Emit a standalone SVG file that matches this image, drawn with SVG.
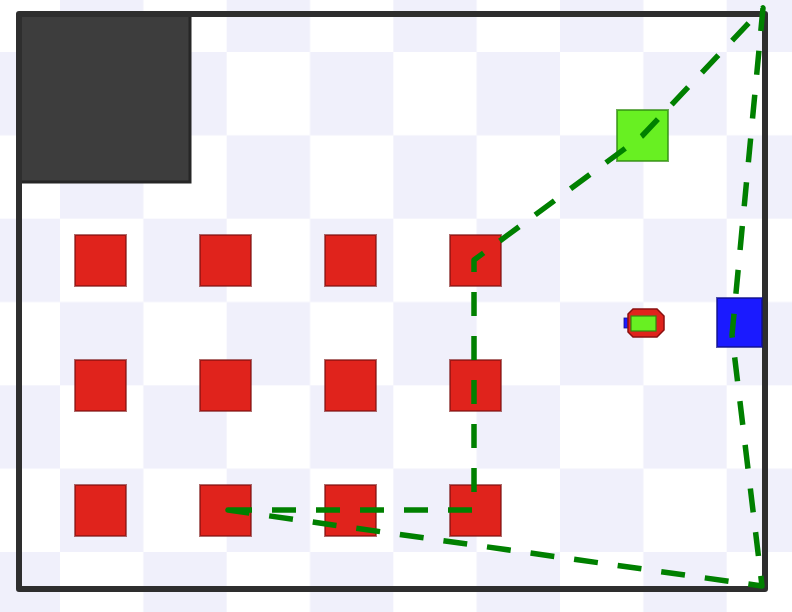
<svg xmlns="http://www.w3.org/2000/svg" width="792" height="612" viewBox="0 0 792 612">
  <defs>
    <pattern id="checker" patternUnits="userSpaceOnUse" x="60" y="52" width="166.67" height="166.67">
      <rect x="0" y="0" width="166.67" height="166.67" fill="#ffffff"/>
      <rect x="83.33" y="0" width="83.34" height="83.33" fill="#f0f0fb"/>
      <rect x="0" y="83.33" width="83.33" height="83.34" fill="#f0f0fb"/>
    </pattern>
  </defs>
  <style>
    .obstacle { fill: #e0231c; stroke: #7a0d0d; stroke-opacity: 0.6; stroke-width: 2; }
    .goal { fill: #68f022; stroke: #2f8a10; stroke-opacity: 0.7; stroke-width: 2; }
    .station { fill: #1a1aff; stroke: #10108a; stroke-opacity: 0.7; stroke-width: 2; }
    .wall { fill: none; stroke: #2e2e2e; stroke-width: 6; stroke-linejoin: round; }
    .path { fill: none; stroke: #008000; stroke-width: 5.5; stroke-dasharray: 24 20; stroke-linejoin: round; }
  </style>
  <rect x="0" y="0" width="792" height="612" fill="url(#checker)"/>

  <g id="block">
    <rect x="19" y="14" width="171" height="168" fill="#3d3d3d" stroke="#262626" stroke-width="3"/>
  </g>

  <g id="walls">
    <rect class="wall" x="19" y="14" width="746" height="575"/>
  </g>

  <g id="obstacle-r1c1"><rect class="obstacle" x="75" y="235" width="51" height="51"/></g>
  <g id="obstacle-r1c2"><rect class="obstacle" x="200" y="235" width="51" height="51"/></g>
  <g id="obstacle-r1c3"><rect class="obstacle" x="325" y="235" width="51" height="51"/></g>
  <g id="obstacle-r1c4"><rect class="obstacle" x="450" y="235" width="51" height="51"/></g>
  <g id="obstacle-r2c1"><rect class="obstacle" x="75" y="360" width="51" height="51"/></g>
  <g id="obstacle-r2c2"><rect class="obstacle" x="200" y="360" width="51" height="51"/></g>
  <g id="obstacle-r2c3"><rect class="obstacle" x="325" y="360" width="51" height="51"/></g>
  <g id="obstacle-r2c4"><rect class="obstacle" x="450" y="360" width="51" height="51"/></g>
  <g id="obstacle-r3c1"><rect class="obstacle" x="75" y="485" width="51" height="51"/></g>
  <g id="obstacle-r3c2"><rect class="obstacle" x="200" y="485" width="51" height="51"/></g>
  <g id="obstacle-r3c3"><rect class="obstacle" x="325" y="485" width="51" height="51"/></g>
  <g id="obstacle-r3c4"><rect class="obstacle" x="450" y="485" width="51" height="51"/></g>

  <g id="goal"><rect class="goal" x="617" y="110" width="51" height="51"/></g>

  <g id="station"><rect class="station" x="717" y="298" width="45" height="49"/></g>

  <g id="robot">
    <rect x="624" y="318" width="6" height="10" fill="#1a1aff" stroke="#10108a" stroke-width="0.8"/>
    <path d="M633,309 H657 L664,316 V330 L657,337 H633 L628,332 V314 Z" fill="#e0231c" stroke="#8a1010" stroke-width="1.5"/>
    <rect x="631" y="316" width="25" height="15" fill="#68f022" stroke="#2f8a10" stroke-width="1.2"/>
  </g>

  <g id="connectors">
    <path class="path" d="M228,510 H474 V260 L642,136 L763,8 L732,335 L762,586 Z"/>
  </g>
</svg>
